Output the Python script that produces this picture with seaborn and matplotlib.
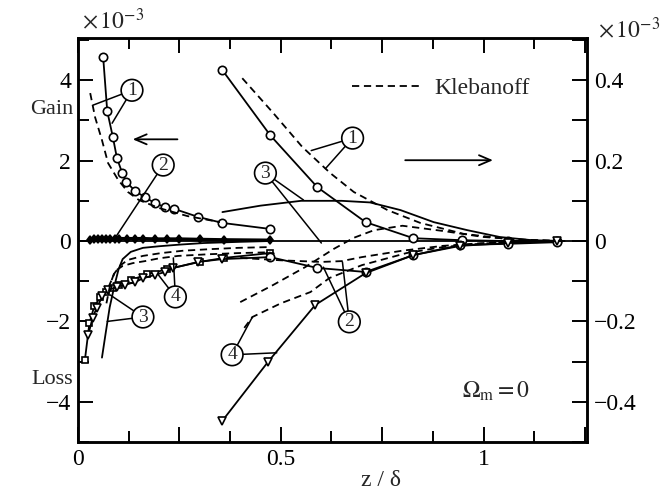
import matplotlib
matplotlib.use("Agg")
import matplotlib.pyplot as plt
import seaborn as sns
from matplotlib.lines import Line2D
from matplotlib.ticker import MultipleLocator, FuncFormatter

sns.set_theme(style="ticks")
plt.rcParams["font.family"] = ["Liberation Serif", "DejaVu Serif"]
plt.rcParams["mathtext.fontset"] = "stix"

# ---- near-wall region, left axis (x 10^-3) ----
z_g1 = [0.062, 0.072, 0.086, 0.096, 0.109, 0.119, 0.141, 0.165, 0.19, 0.215, 0.237, 0.296, 0.356, 0.474]
g1 = [4.57, 3.23, 2.58, 2.06, 1.69, 1.47, 1.24, 1.09, 0.94, 0.84, 0.80, 0.60, 0.45, 0.30]
z_k1 = [0.030, 0.042, 0.059, 0.074, 0.099, 0.123, 0.15, 0.2, 0.27, 0.35]
k1 = [3.68, 3.08, 2.51, 1.94, 1.52, 1.22, 1.02, 0.82, 0.62, 0.47]
z_g2 = [0.03, 0.04, 0.05, 0.06, 0.07, 0.08, 0.09, 0.1, 0.12, 0.14, 0.16, 0.19, 0.22, 0.25, 0.3, 0.36, 0.474]
g2 = [0.02, 0.04, 0.05, 0.06, 0.06, 0.06, 0.06, 0.06, 0.06, 0.06, 0.06, 0.05, 0.05, 0.05, 0.04, 0.03, 0.02]
z_l3 = [0.017, 0.028, 0.04, 0.055, 0.07, 0.085, 0.1, 0.13, 0.17, 0.22, 0.3, 0.36, 0.474]
l3 = [-2.95, -2.05, -1.62, -1.40, -1.27, -1.17, -1.10, -0.97, -0.83, -0.70, -0.52, -0.42, -0.30]
z_l3s = [0.059, 0.068, 0.078, 0.09, 0.1, 0.11, 0.13, 0.16, 0.2, 0.25, 0.31, 0.4, 0.474]
l3s = [-2.9, -2.3, -1.65, -1.1, -0.7, -0.45, -0.27, -0.17, -0.13, -0.09, -0.05, -0.02, 0.0]
z_k3 = [0.075, 0.09, 0.105, 0.123, 0.16, 0.205, 0.26, 0.33, 0.395, 0.474]
k3 = [-1.15, -0.8, -0.6, -0.47, -0.37, -0.30, -0.24, -0.20, -0.17, -0.15]
z_l4 = [0.025, 0.036, 0.046, 0.06, 0.075, 0.096, 0.116, 0.141, 0.16, 0.19, 0.215, 0.235, 0.296, 0.356, 0.474]
l4 = [-2.34, -1.91, -1.66, -1.38, -1.22, -1.14, -1.09, -1.02, -0.93, -0.84, -0.77, -0.67, -0.52, -0.45, -0.40]
z_k4 = [0.07, 0.08, 0.091, 0.11, 0.135, 0.165, 0.2, 0.247, 0.32, 0.395, 0.474]
k4 = [-1.55, -1.05, -0.75, -0.62, -0.55, -0.50, -0.43, -0.37, -0.33, -0.30, -0.28]

# ---- outer region, right axis (x 10^-3) ----
z_r1 = [0.356, 0.474, 0.59, 0.709, 0.827, 0.948, 1.06, 1.18]
r1 = [0.425, 0.263, 0.134, 0.047, 0.007, 0.002, 0.0, 0.0]
z_rk1 = [0.405, 0.48, 0.553, 0.622, 0.68, 0.763, 0.844, 0.95, 1.06, 1.18]
rk1 = [0.405, 0.32, 0.234, 0.169, 0.122, 0.077, 0.045, 0.018, 0.005, 0.0]
z_r3 = [0.356, 0.45, 0.55, 0.65, 0.72, 0.795, 0.877, 0.96, 1.04, 1.12, 1.2]
r3 = [0.072, 0.088, 0.100, 0.100, 0.096, 0.077, 0.047, 0.027, 0.010, 0.002, 0.0]
z_rk3 = [0.40, 0.48, 0.56, 0.63, 0.68, 0.73, 0.8, 0.9, 1.0, 1.1, 1.2]
rk3 = [-0.152, -0.11, -0.065, -0.02, 0.008, 0.027, 0.038, 0.025, 0.010, 0.003, 0.0]
z_r2 = [0.474, 0.59, 0.709, 0.827, 0.943, 1.06, 1.18]
r2 = [-0.040, -0.067, -0.077, -0.035, -0.010, -0.007, -0.003]
z_rk2 = [0.40, 0.5, 0.6, 0.65, 0.7, 0.8, 0.9, 1.0, 1.1, 1.2]
rk2 = [-0.042, -0.048, -0.052, -0.050, -0.040, -0.024, -0.012, -0.005, -0.001, 0.0]
z_r4 = [0.356, 0.469, 0.585, 0.709, 0.827, 0.943, 1.06, 1.18]
r4 = [-0.447, -0.30, -0.159, -0.080, -0.035, -0.012, -0.005, 0.0]
z_rk4 = [0.41, 0.43, 0.5, 0.573, 0.62, 0.7, 0.81, 0.9, 1.0, 1.1, 1.2]
rk4 = [-0.216, -0.189, -0.155, -0.127, -0.092, -0.060, -0.030, -0.015, -0.006, -0.002, 0.0]

INK = "black"
FS = 17
LW = 1.3

fig = plt.figure(figsize=(6.67, 4.93), dpi=100)
ax = fig.add_axes([0.117, 0.1034, 0.763, 0.8195])
ax2 = ax.twinx()


def curve(axis, z, v, marker=None, dashed=False, ms=6, lw=LW, fill="white"):
    sns.lineplot(x=z, y=v, ax=axis, color=INK, lw=lw, estimator=None, sort=False,
                 legend=False, marker=marker, markersize=ms,
                 markerfacecolor=fill, markeredgecolor=INK, markeredgewidth=1.2)
    line = axis.get_lines()[-1]
    if dashed:
        line.set_dashes((4.0, 2.6))
    if marker:
        line.set_markerfacecolor(fill)
        line.set_markeredgecolor(INK)


# left-axis curves
curve(ax, z_g1, g1, marker="o")
curve(ax, z_k1, k1, dashed=True)
curve(ax, z_g2, g2, marker="d", ms=4.5, lw=2.4, fill=INK)
curve(ax, z_l3, l3, marker="s", ms=5)
curve(ax, z_l3s, l3s)
curve(ax, z_k3, k3, dashed=True)
curve(ax, z_l4, l4, marker="v", ms=5.5)
curve(ax, z_k4, k4, dashed=True)

# right-axis curves
curve(ax2, z_r1, r1, marker="o")
curve(ax2, z_rk1, rk1, dashed=True)
curve(ax2, z_r3, r3)
curve(ax2, z_rk3, rk3, dashed=True)
curve(ax2, z_r2, r2, marker="o")
curve(ax2, z_rk2, rk2, dashed=True)
curve(ax2, z_r4, r4, marker="v", ms=6)
curve(ax2, z_rk4, rk4, dashed=True)

ax.axhline(0, color=INK, lw=1.3, zorder=1)

# axes, limits and ticks
ax.set_xlim(0, 1.255)
ax.set_ylim(-5, 5.05)
ax2.set_ylim(-0.5, 0.505)
ax.set_xlabel("")
ax.set_ylabel("")
ax2.set_ylabel("")

ax.xaxis.set_major_locator(MultipleLocator(0.25))
ax.xaxis.set_minor_locator(MultipleLocator(0.125))
ax.xaxis.set_major_formatter(FuncFormatter(
    lambda v, p: "0" if abs(v) < 1e-9 else ("0.5" if abs(v - 0.5) < 1e-9 else ("1" if abs(v - 1) < 1e-9 else ""))))
ax.yaxis.set_major_locator(MultipleLocator(2))
ax.yaxis.set_minor_locator(MultipleLocator(1))
ax.yaxis.set_major_formatter(FuncFormatter(lambda v, p: f"{v:.0f}".replace("-", "\u2212")))
ax2.yaxis.set_major_locator(MultipleLocator(0.2))
ax2.yaxis.set_minor_locator(MultipleLocator(0.1))
ax2.yaxis.set_major_formatter(FuncFormatter(
    lambda v, p: "0" if abs(v) < 1e-9 else f"{v:.1f}".replace("-", "\u2212")))

ax.tick_params(which="both", direction="in", top=True, right=False, colors=INK,
               labelsize=FS, width=1.4, pad=5)
ax.tick_params(which="major", length=11)
ax.tick_params(which="minor", length=8)
ax2.tick_params(which="both", direction="in", colors=INK, labelsize=FS, width=1.4, pad=5)
ax2.tick_params(which="major", length=11)
ax2.tick_params(which="minor", length=11)
for a in (ax, ax2):
    for s in a.spines.values():
        s.set_visible(True)
        s.set_linewidth(1.8)
        s.set_color(INK)

# multiplier labels and side captions
fig.text(82 / 667, 1 - 29 / 493, r"$\times\,10^{-3}$", fontsize=FS, va="baseline", ha="left")
fig.text(598 / 667, 1 - 38 / 493, r"$\times\,10^{-3}$", fontsize=FS, va="baseline", ha="left")
fig.text(73 / 667, 1 - 110 / 493, "Gain", fontsize=FS - 1, ha="right", va="center")
fig.text(73 / 667, 1 - 380 / 493, "Loss", fontsize=FS - 1, ha="right", va="center")

ax.set_xlabel("z / \u03b4", fontsize=FS)
ax.xaxis.set_label_coords((381 - 78) / 509, -0.094)
ax.xaxis.label.set_va("center")

# legend sample
ax2.legend(handles=[Line2D([], [], color=INK, lw=LW, dashes=(4.0, 2.6))], labels=["Klebanoff"],
           frameon=False, loc="center left", bbox_to_anchor=((352 - 78) / 509, 1 - (88 - 38) / 404),
           borderaxespad=0, borderpad=0, handlelength=3.0, handletextpad=0.5, fontsize=FS)

# direction arrows (right-axis units)
ax2.annotate("", xy=(0.128, 0.253), xytext=(0.252, 0.253),
             arrowprops=dict(arrowstyle="->,head_length=0.7,head_width=0.3", lw=1.3, color=INK))
ax2.annotate("", xy=(1.03, 0.201), xytext=(0.80, 0.201),
             arrowprops=dict(arrowstyle="->,head_length=0.7,head_width=0.3", lw=1.3, color=INK))

ax2.text(1.03, -0.375, r"$\Omega_{\rm m}=0$", fontsize=FS, ha="center", va="center")

# circled curve numbers with leader lines (right-axis units)
tags = [
    ("1", (0.133, 0.375), [(0.037, 0.338), (0.084, 0.293)]),
    ("2", (0.21, 0.189), [(0.091, 0.007)]),
    ("3", (0.16, -0.189), [(0.079, -0.134), (0.072, -0.20)]),
    ("4", (0.24, -0.139), [(0.198, -0.084), (0.235, -0.042)]),
    ("3", (0.462, 0.169), [(0.556, 0.102), (0.60, -0.005)]),
    ("1", (0.677, 0.256), [(0.575, 0.225), (0.61, 0.18)]),
    ("2", (0.669, -0.201), [(0.605, -0.065), (0.652, -0.052)]),
    ("4", (0.38, -0.283), [(0.43, -0.189), (0.49, -0.278)]),
]
for num, pos, targets in tags:
    for t in targets:
        ax2.annotate("", xy=t, xytext=pos,
                     arrowprops=dict(arrowstyle="-", lw=1.1, color=INK, shrinkA=0, shrinkB=0),
                     zorder=4)
    ax2.text(pos[0], pos[1], num, fontsize=14, ha="center", va="center", zorder=6,
             bbox=dict(boxstyle="circle,pad=0.12", fc="white", ec=INK, lw=1.2))

fig.savefig("out.png", dpi=100, facecolor="white")
